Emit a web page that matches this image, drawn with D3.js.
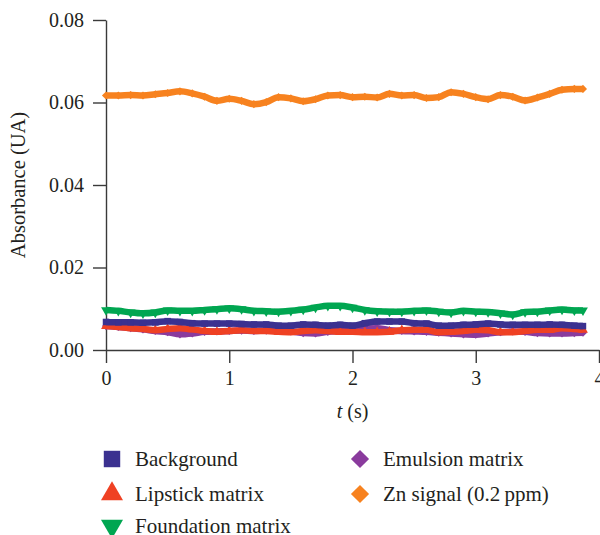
<!DOCTYPE html>
<html>
<head>
<meta charset="utf-8">
<script src="https://cdn.jsdelivr.net/npm/d3@7"></script>
<style>
  body { margin: 0; background: #fff; }
  text { font-family: "Liberation Serif", "DejaVu Serif", serif; fill: #231f20; }
</style>
</head>
<body>
<div id="chart"></div>
<script>
var w = 600, h = 535;

// time (s)
var times = [0,0.1,0.2,0.3,0.4,0.5,0.6,0.7,0.8,0.9,1.0,1.1,1.2,1.3,1.4,1.5,1.6,1.7,1.8,1.9,
             2.0,2.1,2.2,2.3,2.4,2.5,2.6,2.7,2.8,2.9,3.0,3.1,3.2,3.3,3.4,3.5,3.6,3.7,3.8,3.87];

var background = [0.0068,0.0067,0.0067,0.0066,0.0067,0.0070,0.0068,0.0065,0.0064,0.0064,0.0064,0.0063,0.0062,0.0062,0.0059,0.0059,0.0062,0.0061,0.0059,0.0061,
                  0.0059,0.0065,0.0069,0.0069,0.0069,0.0065,0.0064,0.0059,0.0059,0.0061,0.0062,0.0064,0.0062,0.0061,0.0061,0.0061,0.0062,0.0061,0.0059,0.0058];
var lipstick = [0.0058,0.0056,0.0053,0.0051,0.0048,0.0051,0.0053,0.0050,0.0046,0.0044,0.0046,0.0048,0.0046,0.0046,0.0044,0.0043,0.0046,0.0048,0.0046,0.0044,
                0.0044,0.0043,0.0043,0.0044,0.0048,0.0049,0.0049,0.0043,0.0044,0.0046,0.0049,0.0048,0.0043,0.0043,0.0046,0.0049,0.0049,0.0053,0.0051,0.0049];
var foundation = [0.0097,0.0095,0.0091,0.0089,0.0091,0.0096,0.0095,0.0095,0.0097,0.0099,0.0101,0.0099,0.0095,0.0094,0.0093,0.0095,0.0098,0.0103,0.0107,0.0107,
                  0.0103,0.0097,0.0094,0.0093,0.0093,0.0095,0.0096,0.0093,0.0091,0.0095,0.0093,0.0092,0.0089,0.0086,0.0092,0.0093,0.0096,0.0098,0.0096,0.0096];
var emulsion = [0.0058,0.0056,0.0053,0.0050,0.0046,0.0043,0.0038,0.0040,0.0044,0.0045,0.0046,0.0047,0.0046,0.0047,0.0046,0.0045,0.0041,0.0040,0.0044,0.0046,
                0.0048,0.0052,0.0053,0.0048,0.0046,0.0045,0.0044,0.0042,0.0040,0.0038,0.0037,0.0040,0.0043,0.0045,0.0044,0.0041,0.0040,0.0040,0.0041,0.0042];
var znSignal = [0.0617,0.0617,0.0618,0.0617,0.0620,0.0623,0.0627,0.0622,0.0614,0.0604,0.0609,0.0604,0.0596,0.0601,0.0613,0.0610,0.0603,0.0608,0.0617,0.0618,
                0.0613,0.0614,0.0612,0.0621,0.0617,0.0618,0.0611,0.0613,0.0625,0.0621,0.0613,0.0608,0.0618,0.0614,0.0605,0.0612,0.0621,0.0631,0.0633,0.0633];

var xTicks = [0, 1, 2, 3, 4];
var yTicks = [0, 0.02, 0.04, 0.06, 0.08];

// legend order, draw order differs (bottom first)
var series = [
  {name: "Background", values: background, color: "#3b3190", symbol: d3.symbolSquare, rot: 0},
  {name: "Lipstick matrix", values: lipstick, color: "#ef4123", symbol: d3.symbolTriangle, rot: 0},
  {name: "Foundation matrix", values: foundation, color: "#00a651", symbol: d3.symbolTriangle, rot: 180},
  {name: "Emulsion matrix", values: emulsion, color: "#8a3b9d", symbol: d3.symbolDiamond2, rot: 0},
  {name: "Zn signal (0.2\u2009ppm)", values: znSignal, color: "#f7821f", symbol: d3.symbolDiamond2, rot: 0}
];
var drawOrder = [3, 1, 0, 2, 4];

var svg = d3.select("#chart").append("svg")
    .attr("width", w)
    .attr("height", h);

var x = d3.scaleLinear().domain([0, 4]).range([106, 599]);
var y = d3.scaleLinear().domain([0, 0.08]).range([350, 20]);

// axes
svg.append("g")
    .attr("transform", "translate(0," + y(0) + ")")
    .call(d3.axisBottom(x).tickValues(xTicks).tickFormat(d3.format("d"))
      .tickSizeInner(13).tickSizeOuter(0).tickPadding(8));
svg.append("g")
    .attr("transform", "translate(" + x(0) + ",0)")
    .call(d3.axisLeft(y).tickValues(yTicks).tickFormat(d3.format(".2f"))
      .tickSizeInner(13).tickSizeOuter(0).tickPadding(9));

svg.selectAll(".domain, .tick line")
    .attr("stroke", "#3a3a3a")
    .attr("stroke-width", 1.4);
svg.selectAll(".tick text")
    .style("font-family", "'Liberation Serif', serif")
    .style("font-size", "20px")
    .attr("fill", "#231f20");

// series bands
var line = d3.line()
    .x(function(d) { return x(d.t); })
    .y(function(d) { return y(d.v); })
    .curve(d3.curveMonotoneX);

var plot = svg.append("g");
drawOrder.forEach(function(i) {
  var s = series[i];
  var pts = times.map(function(t, j) { return {t: t, v: s.values[j]}; });
  plot.append("path")
      .datum(pts)
      .attr("d", line)
      .attr("fill", "none")
      .attr("stroke", s.color)
      .attr("stroke-width", 6.5)
      .attr("stroke-linejoin", "round");
  plot.selectAll(null)
      .data(pts)
    .enter().append("path")
      .attr("d", d3.symbol().type(s.symbol).size(42))
      .attr("fill", s.color)
      .attr("transform", function(d) {
        return "translate(" + x(d.t) + "," + y(d.v) + ") rotate(" + s.rot + ")";
      });
});

// axis titles
svg.append("text")
    .attr("transform", "translate(25," + ((y(0) + y(0.08)) / 2) + ") rotate(-90)")
    .attr("text-anchor", "middle")
    .style("font-size", "20.5px")
    .text("Absorbance (UA)");

var xt = svg.append("text")
    .attr("x", x(2))
    .attr("y", 418)
    .attr("text-anchor", "middle")
    .style("font-size", "20px");
xt.append("tspan").style("font-style", "italic").text("t");
xt.append("tspan").text(" (s)");

// legend
var legendPos = [
  {x: 112, y: 459}, {x: 112, y: 494}, {x: 112, y: 526},
  {x: 360, y: 459}, {x: 360, y: 494}
];
var legend = svg.append("g").selectAll("g")
    .data(series)
  .enter().append("g")
    .attr("transform", function(d, i) { return "translate(" + legendPos[i].x + "," + legendPos[i].y + ")"; });

legend.append("path")
    .attr("d", function(d) { return d3.symbol().type(d.symbol).size(d.symbol === d3.symbolSquare ? 270 : 210)(); })
    .attr("fill", function(d) { return d.color; })
    .attr("transform", function(d) { return "rotate(" + d.rot + ")"; });

legend.append("text")
    .attr("x", 23)
    .attr("dy", "0.33em")
    .style("font-size", "21px")
    .text(function(d) { return d.name; });
</script>
</body>
</html>
